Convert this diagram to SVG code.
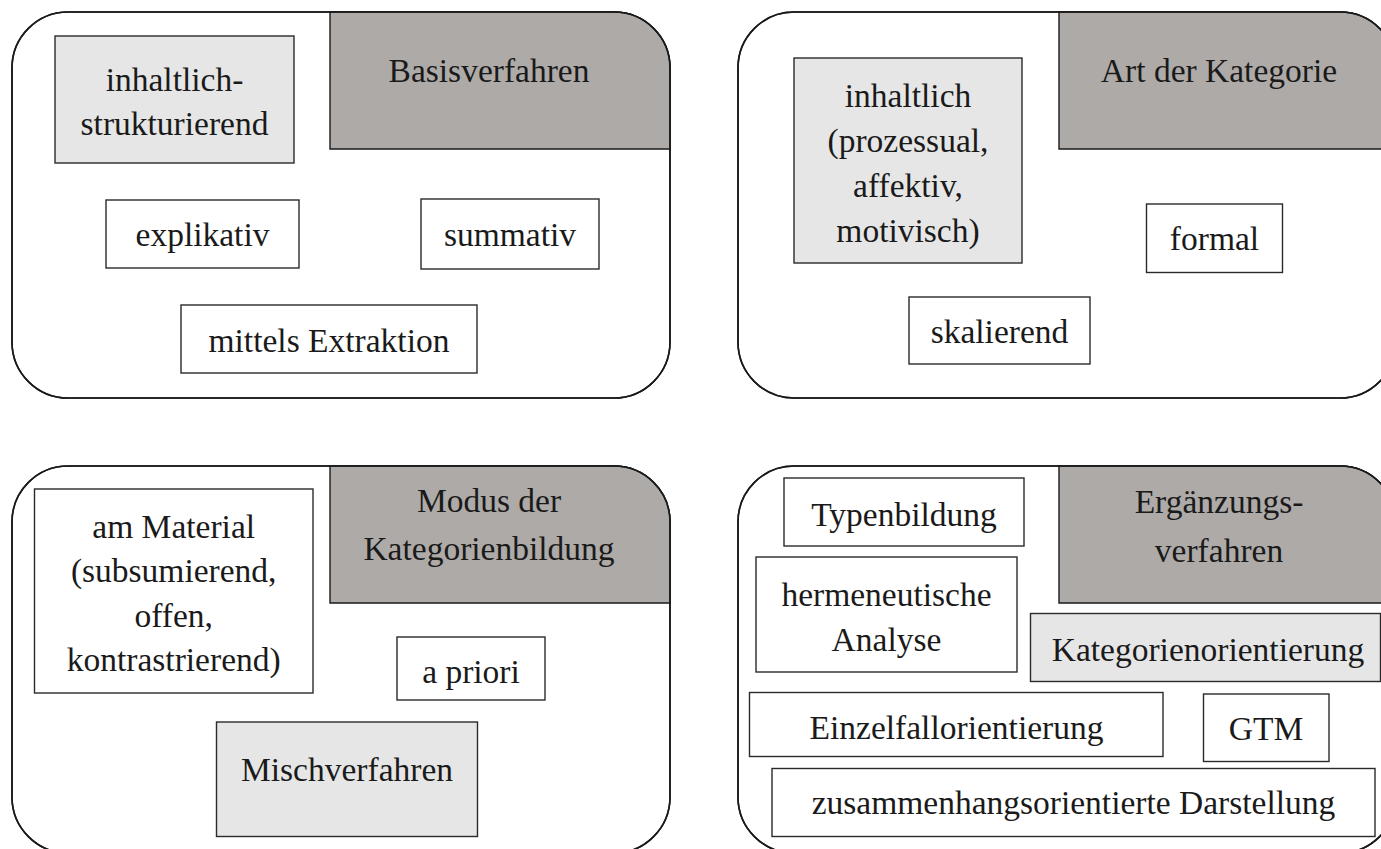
<svg xmlns="http://www.w3.org/2000/svg" width="1381" height="849" viewBox="0 0 1381 849">
  <style>
    .panel { fill: #ffffff; stroke: #1a1a1a; stroke-width: 1.6; }
    .frame { fill: none; stroke: #1a1a1a; stroke-width: 1.6; }
    .head { fill: #aeaaa8; stroke: #1a1a1a; stroke-width: 1.4; }
    .box { fill: #ffffff; stroke: #2a2a2a; stroke-width: 1.4; }
    .hl { fill: #e6e6e6; stroke: #2a2a2a; stroke-width: 1.4; }
    text { font-family: "Liberation Serif", "Times New Roman", serif; font-size: 33.5px; fill: #1a1a1a; text-anchor: middle; }
  </style>
  <rect width="1381" height="849" fill="#ffffff"/>

  <!-- Panel: Basisverfahren -->
  <g id="panel-basisverfahren">
    <rect class="panel" x="12" y="12" width="658" height="386" rx="56" ry="56"/>
    <path class="head" d="M330,12 H614 A56,56 0 0 1 670,68 V149 H330 Z"/>
    <rect class="frame" x="12" y="12" width="658" height="386" rx="56" ry="56"/>
    <text x="489" y="82">Basisverfahren</text>
  </g>
  <g id="node-inhaltlich-strukturierend">
    <rect class="hl" x="55" y="36" width="239" height="127"/>
    <text x="174.5" y="91">inhaltlich-</text>
    <text x="174.5" y="135">strukturierend</text>
  </g>
  <g id="node-explikativ">
    <rect class="box" x="106" y="200" width="193" height="68"/>
    <text x="202.5" y="246">explikativ</text>
  </g>
  <g id="node-summativ">
    <rect class="box" x="421" y="199" width="178" height="70"/>
    <text x="510" y="246">summativ</text>
  </g>
  <g id="node-mittels-extraktion">
    <rect class="box" x="181" y="305" width="296" height="68"/>
    <text x="329" y="352">mittels Extraktion</text>
  </g>

  <!-- Panel: Art der Kategorie -->
  <g id="panel-art-der-kategorie">
    <rect class="panel" x="738" y="12" width="658" height="386" rx="56" ry="56"/>
    <path class="head" d="M1059,12 H1340 A56,56 0 0 1 1396,68 V149 H1059 Z"/>
    <rect class="frame" x="738" y="12" width="658" height="386" rx="56" ry="56"/>
    <text x="1219" y="82">Art der Kategorie</text>
  </g>
  <g id="node-inhaltlich">
    <rect class="hl" x="794" y="58" width="228" height="205"/>
    <text x="908" y="107">inhaltlich</text>
    <text x="908" y="152">(prozessual,</text>
    <text x="908" y="197">affektiv,</text>
    <text x="908" y="242">motivisch)</text>
  </g>
  <g id="node-formal">
    <rect class="box" x="1146.5" y="204" width="136" height="68.5"/>
    <text x="1214.5" y="250">formal</text>
  </g>
  <g id="node-skalierend">
    <rect class="box" x="909" y="297" width="181" height="67"/>
    <text x="999.5" y="343">skalierend</text>
  </g>

  <!-- Panel: Modus der Kategorienbildung -->
  <g id="panel-modus">
    <rect class="panel" x="12" y="466" width="658" height="387" rx="56" ry="56"/>
    <path class="head" d="M330,466 H614 A56,56 0 0 1 670,522 V603 H330 Z"/>
    <rect class="frame" x="12" y="466" width="658" height="387" rx="56" ry="56"/>
    <text x="489" y="512">Modus der</text>
    <text x="489" y="560">Kategorienbildung</text>
  </g>
  <g id="node-am-material">
    <rect class="box" x="34.5" y="489" width="278.5" height="204"/>
    <text x="173.7" y="538">am Material</text>
    <text x="173.7" y="582">(subsumierend,</text>
    <text x="173.7" y="627">offen,</text>
    <text x="173.7" y="671">kontrastrierend)</text>
  </g>
  <g id="node-a-priori">
    <rect class="box" x="397" y="637" width="148" height="63"/>
    <text x="471" y="683">a priori</text>
  </g>
  <g id="node-mischverfahren">
    <rect class="hl" x="216.5" y="722" width="261" height="114.5"/>
    <text x="347" y="781">Mischverfahren</text>
  </g>

  <!-- Panel: Ergänzungsverfahren -->
  <g id="panel-ergaenzung">
    <rect class="panel" x="738" y="466" width="658" height="387" rx="56" ry="56"/>
    <path class="head" d="M1059,466 H1340 A56,56 0 0 1 1396,522 V603 H1059 Z"/>
    <rect class="frame" x="738" y="466" width="658" height="387" rx="56" ry="56"/>
    <text x="1219" y="513">Ergänzungs-</text>
    <text x="1219" y="562">verfahren</text>
  </g>
  <g id="node-typenbildung">
    <rect class="box" x="784" y="478" width="240" height="68"/>
    <text x="904" y="526">Typenbildung</text>
  </g>
  <g id="node-hermeneutische-analyse">
    <rect class="box" x="756" y="557" width="261" height="115"/>
    <text x="886.5" y="606">hermeneutische</text>
    <text x="886.5" y="651">Analyse</text>
  </g>
  <g id="node-kategorienorientierung">
    <rect class="hl" x="1030.5" y="613.5" width="350" height="68"/>
    <text x="1208" y="661">Kategorienorientierung</text>
  </g>
  <g id="node-einzelfallorientierung">
    <rect class="box" x="749.5" y="692.5" width="413.5" height="64"/>
    <text x="956.5" y="739">Einzelfallorientierung</text>
  </g>
  <g id="node-gtm">
    <rect class="box" x="1203.5" y="694" width="125.5" height="67.5"/>
    <text x="1266" y="740">GTM</text>
  </g>
  <g id="node-zusammenhang">
    <rect class="box" x="772" y="768.5" width="603" height="68"/>
    <text x="1073.5" y="814">zusammenhangsorientierte Darstellung</text>
  </g>

  <!-- no connectors in this figure -->
  <g id="connectors"/>
</svg>
